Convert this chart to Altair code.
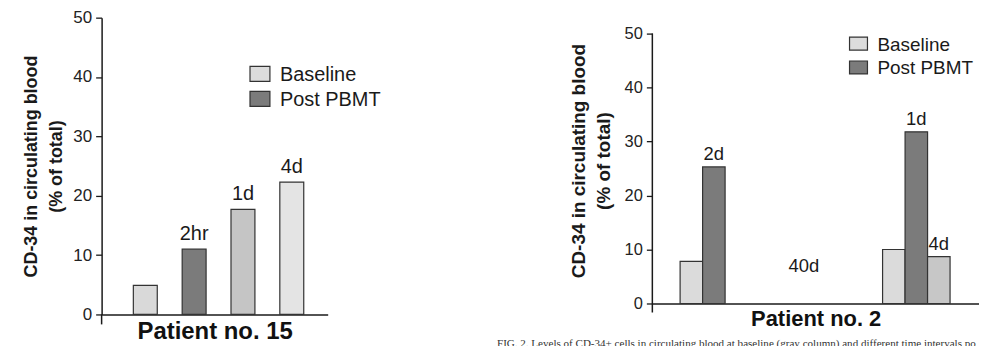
import altair as alt
import pandas as pd

# ---------------- data ----------------
# Patient no. 15
p15_keys = ["Baseline", "2hr", "1d", "4d"]
p15_values = [4.9, 11.0, 17.7, 22.3]
p15_labels = ["", "2hr", "1d", "4d"]

# Patient no. 2
p2_keys = ["Baseline (first)", "2d", "Baseline (40d)", "1d", "4d"]
p2_values = [7.8, 25.3, 10.0, 31.8, 8.7]
p2_labels = ["", "2d", "", "1d", "4d"]
p2_gap_label = ["40d"]
p2_gap_value = [5.9]

legend_items = ["Baseline", "Post PBMT"]
y_ticks = [0, 10, 20, 30, 40, 50]
y_title = ["CD-34 in circulating blood", "(% of total)"]
# caption as far as it is visible in the reference (it runs off the page)
caption = ("FIG. 2. Levels of CD-34+ cells in circulating blood at baseline (gray column) "
           "and different time intervals po")

# ---------------- styles ----------------
FONT = "Liberation Sans"
INK = "#1a1a1a"
p15_colors = ["#d9d9d9", "#7b7b7b", "#c5c5c5", "#e4e4e4"]
p2_colors = ["#dbdbdb", "#7b7b7b", "#dbdbdb", "#7b7b7b", "#c7c7c7"]
legend_colors = ["#dcdcdc", "#7b7b7b"]


def y_axis(tick_size, title_size, title_pad, show_domain=True):
    return alt.Axis(values=y_ticks, grid=False, title=y_title, titleFont=FONT,
                    titleFontSize=title_size, titleFontWeight="bold", titleColor=INK,
                    titleLineHeight=25, titlePadding=title_pad,
                    labelFont=FONT, labelFontSize=tick_size, labelColor="#222",
                    labelPadding=4, tickSize=6, tickColor=INK, tickWidth=1.3,
                    domain=show_domain, domainColor=INK, domainWidth=1.5)


def x_axis(title, size):
    return alt.Axis(labels=False, ticks=False, title=title, titleFont=FONT,
                    titleFontSize=size, titleFontWeight="bold", titleColor="#111",
                    titlePadding=5, domainColor=INK, domainWidth=1.5)


def legend_layers(x0, y0, w, h, gap, size):
    layers = []
    for i, (name, col) in enumerate(zip(legend_items, legend_colors)):
        d = pd.DataFrame({"t": [name]})
        top = y0 + i * gap
        layers.append(alt.Chart(d).mark_rect(fill=col, stroke="#333", strokeWidth=1.2).encode(
            x=alt.value(x0), x2=alt.value(x0 + w), y=alt.value(top), y2=alt.value(top + h)))
        layers.append(alt.Chart(d).mark_text(align="left", baseline="middle", font=FONT,
                                             fontSize=size, color=INK).encode(
            x=alt.value(x0 + w + 10), y=alt.value(top + h / 2 + 1), text="t:N"))
    return layers


# ---------------- Patient no. 15 ----------------
W1, H1 = 227, 298
df15 = pd.DataFrame({"key": p15_keys, "value": p15_values, "label": p15_labels})
x15 = alt.X("key:N", sort=p15_keys,
            scale=alt.Scale(domain=p15_keys, paddingInner=0.51, paddingOuter=0.57, align=0.57),
            axis=x_axis("Patient no. 15", 24))
y15 = alt.Y("value:Q", scale=alt.Scale(domain=[0, 50], nice=False), axis=y_axis(17, 18, 7))

bars15 = alt.Chart(df15).mark_bar(stroke="#333", strokeWidth=1.2).encode(
    x=x15, y=y15,
    color=alt.Color("key:N", scale=alt.Scale(domain=p15_keys, range=p15_colors), legend=None))
text15 = alt.Chart(df15).mark_text(baseline="alphabetic", dy=-9, font=FONT, fontSize=20,
                                   color=INK).encode(x="key:N", y="value:Q", text="label:N")
ext15 = alt.Chart(pd.DataFrame({"a": [0]})).mark_rule(color=INK, strokeWidth=1.5).encode(
    x=alt.value(0), y=alt.value(H1), y2=alt.value(H1 + 10))

left = alt.layer(bars15, text15, ext15, *legend_layers(149, 49, 20, 15, 25, 20)).properties(
    width=W1, height=H1)

# ---------------- Patient no. 2 ----------------
W2, H2 = 328, 287          # plot area drops 16px lower than the left panel's
Y2_TOP = 50 * H2 / 271     # so that the 50 tick sits 16px below the panel top
gap_slots = [" gap%d" % i for i in range(7)]
p2_domain = [" edgeL"] + p2_keys[:2] + gap_slots + p2_keys[2:] + [" edgeR"]
df2 = pd.DataFrame({"key": p2_keys, "value": p2_values, "label": p2_labels})
dfgap = pd.DataFrame({"key": [gap_slots[3]], "value": p2_gap_value, "label": p2_gap_label})

x2 = alt.X("key:N", sort=p2_domain,
           scale=alt.Scale(domain=p2_domain, paddingInner=0, paddingOuter=0.26, align=0.45),
           axis=x_axis("Patient no. 2", 22))
y2 = alt.Y("value:Q", scale=alt.Scale(domain=[0, Y2_TOP], nice=False),
           axis=y_axis(16.5, 19, 11, show_domain=False))

bars2 = alt.Chart(df2).mark_bar(stroke="#333", strokeWidth=1.2).encode(
    x=x2, y=y2,
    color=alt.Color("key:N", scale=alt.Scale(domain=p2_keys, range=p2_colors), legend=None))
text2 = alt.Chart(df2).mark_text(baseline="alphabetic", dy=-7, font=FONT, fontSize=18.5,
                                 color=INK).encode(x="key:N", y="value:Q", text="label:N")
textgap = alt.Chart(dfgap).mark_text(baseline="alphabetic", font=FONT, fontSize=18.5,
                                     color=INK).encode(x="key:N", y="value:Q", text="label:N")
ext2 = alt.Chart(pd.DataFrame({"a": [0]})).mark_rule(color=INK, strokeWidth=1.5).encode(
    x=alt.value(0), y=alt.datum(y_ticks[-1]), y2=alt.value(H2 + 9))
cap = alt.Chart(pd.DataFrame({"t": [caption]})).mark_text(
    align="left", baseline="alphabetic", font="Liberation Serif", fontSize=11.1,
    color="#333").encode(x=alt.value(-156), y=alt.value(H2 + 44), text="t:N")

right = alt.layer(bars2, text2, textgap, ext2, cap,
                  *legend_layers(198, 19.5, 18, 13, 24, 19)).properties(
    width=W2, height=H2)

chart = alt.hconcat(left, right, spacing=116).resolve_scale(color="independent").properties(
    padding={"left": 15, "top": 0, "right": 0, "bottom": 0}
).configure_view(strokeWidth=0)

chart.save("out.html", embed_options={"renderer": "svg", "actions": False})
